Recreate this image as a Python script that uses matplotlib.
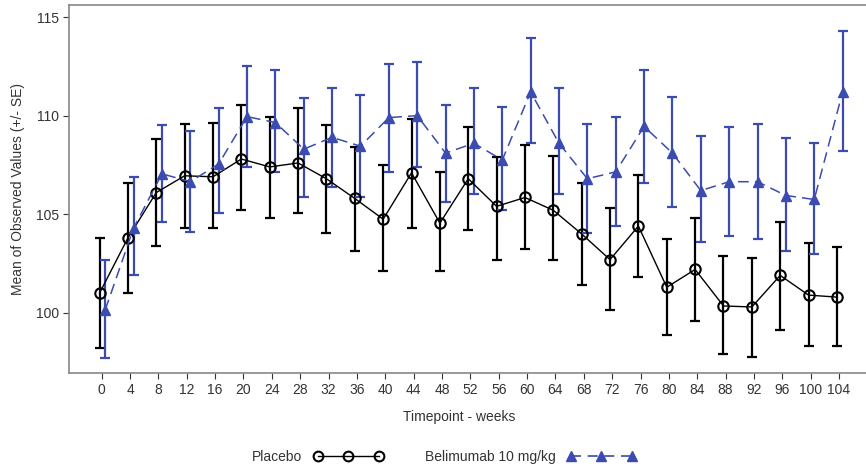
import numpy as np
import matplotlib
matplotlib.use("Agg")
import matplotlib.pyplot as plt

plt.rcParams["font.family"] = ["Liberation Sans", "DejaVu Sans"]

weeks = [0, 4, 8, 12, 16, 20, 24, 28, 32, 36, 40, 44, 48, 52,
         56, 60, 64, 68, 72, 76, 80, 84, 88, 92, 96, 100, 104]

# placebo mean and error bar ends (mean -/+ SE)
placebo_mean = [101.0, 103.8, 106.1, 106.95, 106.9, 107.8, 107.4, 107.6, 106.8, 105.8, 104.75, 107.1, 104.55, 106.8,
                105.4, 105.85, 105.2, 104.0, 102.7, 104.4, 101.3, 102.2, 100.35, 100.3, 101.9, 100.9, 100.8]
placebo_lo = [98.2, 101.0, 103.4, 104.3, 104.3, 105.2, 104.8, 105.05, 104.05, 103.15, 102.1, 104.3, 102.1, 104.2,
              102.7, 103.25, 102.7, 101.4, 100.15, 101.8, 98.9, 99.6, 97.9, 97.75, 99.15, 98.3, 98.3]
placebo_hi = [103.8, 106.6, 108.8, 109.6, 109.65, 110.55, 109.95, 110.4, 109.5, 108.4, 107.5, 109.85, 107.15, 109.4,
              107.9, 108.5, 107.95, 106.6, 105.3, 107.0, 103.75, 104.8, 102.9, 102.8, 104.6, 103.55, 103.35]

bel_mean = [100.15, 104.3, 107.05, 106.65, 107.55, 109.95, 109.65, 108.3, 108.9, 108.45, 109.9, 110.0, 108.1, 108.6,
            107.75, 111.2, 108.6, 106.8, 107.15, 109.45, 108.1, 106.2, 106.65, 106.65, 105.95, 105.75, 111.2]
bel_lo = [97.7, 101.9, 104.6, 104.1, 105.05, 107.4, 107.15, 105.9, 106.4, 105.9, 107.15, 107.4, 105.6, 106.05,
          105.2, 108.6, 106.05, 104.05, 104.4, 106.6, 105.35, 103.6, 103.9, 103.75, 103.15, 103.0, 108.2]
bel_hi = [102.7, 106.9, 109.5, 109.2, 110.4, 112.5, 112.3, 110.9, 111.4, 111.05, 112.6, 112.7, 110.55, 111.4,
          110.45, 113.95, 111.4, 109.6, 109.95, 112.3, 110.95, 108.95, 109.4, 109.6, 108.85, 108.6, 114.3]

blue = "#3b4bb0"
x = np.array(weeks, dtype=float)
pm = np.array(placebo_mean)
bm = np.array(bel_mean)

fig = plt.figure(figsize=(8.66, 4.71), dpi=100)
# plot frame runs off the right edge of the picture (no right spine)
ax = fig.add_axes([0.080, 0.208, 0.920, 0.781])

# placebo, nudged a little left of the tick
xp = x - 0.3
ax.errorbar(xp, pm, yerr=[pm - np.array(placebo_lo), np.array(placebo_hi) - pm],
            fmt="none", ecolor="black", elinewidth=1.6, capsize=3.6, capthick=1.6, zorder=2)
ax.plot(xp, pm, color="black", linewidth=1.0, marker="o", markersize=7.5,
        markerfacecolor="none", markeredgecolor="black", markeredgewidth=1.5, zorder=3)

# belimumab, shifted a little to the right
xb = x + 0.5
ax.errorbar(xb, bm, yerr=[bm - np.array(bel_lo), np.array(bel_hi) - bm],
            fmt="none", ecolor=blue, elinewidth=1.6, capsize=3.6, capthick=1.6, zorder=2)
ax.plot(xb, bm, color=blue, linewidth=1.1, linestyle=(0, (7, 4)), marker="^", markersize=7,
        markerfacecolor=blue, markeredgecolor=blue, zorder=4)

ax.set_xlim(-4.57, 107.8)
ax.set_ylim(96.95, 115.6)
ax.set_xticks(weeks)
ax.set_yticks([100, 105, 110, 115])
ax.tick_params(labelsize=10, colors="#333333", length=4)
ax.spines["right"].set_visible(False)
for s in ax.spines.values():
    s.set_color("#888888")
    s.set_linewidth(1.2)

ax.set_xlabel("Timepoint - weeks", fontsize=10, color="#333333")
ax.xaxis.set_label_coords(0.49, -0.1)
ax.set_ylabel("Mean of Observed Values (+/- SE)", fontsize=10, color="#333333", labelpad=8)

h1, = ax.plot([], [], color="black", linewidth=1.0, marker="o", markersize=7,
              markerfacecolor="none", markeredgecolor="black", markeredgewidth=1.5)
h2, = ax.plot([], [], color=blue, linewidth=1.2, linestyle=(0, (6, 4)), marker="^", markersize=7,
              markerfacecolor=blue, markeredgecolor=blue)
fig.legend([h1, h2], ["Placebo", "Belimumab 10 mg/kg"], loc="center", bbox_to_anchor=(0.513, 0.03),
           ncol=2, frameon=False, markerfirst=False, numpoints=3, handlelength=5,
           columnspacing=3, fontsize=10, labelcolor="#333333")

fig.savefig("out.png", dpi=100)
